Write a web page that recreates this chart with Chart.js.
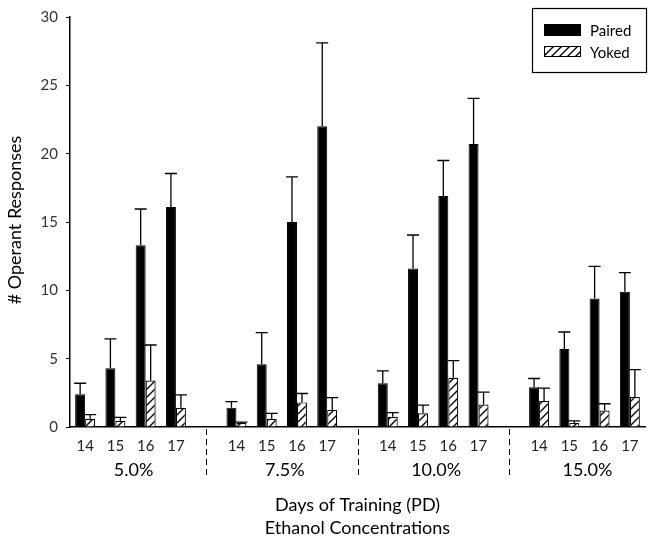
<!DOCTYPE html>
<html>
<head>
<meta charset="utf-8">
<script src="https://cdn.jsdelivr.net/npm/chart.js@4"></script>
<style>
  html, body { margin: 0; padding: 0; background: #fff; }
  #wrap { width: 654px; height: 540px; }
</style>
</head>
<body>
<div id="wrap"><canvas id="chart"></canvas></div>
<script>
// days within each concentration, empty slot between groups
const dayLabels = ['14', '15', '16', '17', '', '14', '15', '16', '17', '', '14', '15', '16', '17', '', '14', '15', '16', '17']
const groupLabels = ['5.0%', '7.5%', '10.0%', '15.0%']

const paired = [2.4, 4.3, 13.3, 16.1, null, 1.4, 4.6, 15.0, 22.0, null, 3.2, 11.6, 16.9, 20.7, null, 2.9, 5.7, 9.4, 9.9]
const pairedErr = [0.8, 2.15, 2.65, 2.45, null, 0.45, 2.3, 3.3, 6.1, null, 0.9, 2.45, 2.6, 3.35, null, 0.65, 1.25, 2.35, 1.4]
const yoked = [0.6, 0.45, 3.4, 1.4, null, 0.3, 0.6, 1.8, 1.25, null, 0.75, 1.0, 3.6, 1.65, null, 1.9, 0.3, 1.2, 2.2]
const yokedErr = [0.3, 0.25, 2.6, 0.95, null, 0.05, 0.4, 0.65, 0.9, null, 0.3, 0.6, 1.25, 0.9, null, 0.95, 0.15, 0.5, 2.0]

const font = 'Lato, "Open Sans", sans-serif'

function hatch() {
  const c = document.createElement('canvas')
  c.width = 8
  c.height = 8
  const g = c.getContext('2d')
  g.fillStyle = '#fff'
  g.fillRect(0, 0, 8, 8)
  g.strokeStyle = '#000'
  g.lineWidth = 1.4
  g.beginPath()
  g.moveTo(0, 8); g.lineTo(8, 0)
  g.moveTo(-2, 2); g.lineTo(2, -2)
  g.moveTo(6, 10); g.lineTo(10, 6)
  g.stroke()
  return document.getElementById('chart').getContext('2d').createPattern(c, 'repeat')
}
const hatchPattern = hatch()

// error bars, group separators, group labels, titles, legend box
const extras = {
  id: 'extras',
  afterDatasetsDraw(chart) {
    const ctx = chart.ctx
    const y = chart.scales.y
    const errs = [pairedErr, yokedErr]
    ctx.save()
    ctx.strokeStyle = '#000'
    ctx.lineWidth = 1.3
    chart.data.datasets.forEach((ds, di) => {
      const meta = chart.getDatasetMeta(di)
      meta.data.forEach((bar, i) => {
        if (ds.data[i] == null) return
        const top = y.getPixelForValue(ds.data[i])
        const end = y.getPixelForValue(ds.data[i] + errs[di][i])
        ctx.beginPath()
        ctx.moveTo(bar.x, top)
        ctx.lineTo(bar.x, end)
        ctx.moveTo(bar.x - 6, end)
        ctx.lineTo(bar.x + 6, end)
        ctx.stroke()
      })
    })
    ctx.restore()
  },
  afterDraw(chart) {
    const ctx = chart.ctx
    const x = chart.scales.x
    const area = chart.chartArea
    const mid = (area.left + area.right) / 2
    ctx.save()
    // dashed separators
    ctx.strokeStyle = '#000'
    ctx.lineWidth = 1
    ctx.setLineDash([6, 4])
    ;[4, 9, 14].forEach(i => {
      const px = Math.round(x.getPixelForValue(i)) + 0.5
      ctx.beginPath()
      ctx.moveTo(px, area.bottom + 2)
      ctx.lineTo(px, area.bottom + 51)
      ctx.stroke()
    })
    ctx.setLineDash([])
    // concentration labels
    ctx.fillStyle = '#000'
    ctx.font = '18px ' + font
    ctx.textAlign = 'center'
    ctx.textBaseline = 'middle'
    groupLabels.forEach((g, k) => {
      const cx = (x.getPixelForValue(k * 5 + 1) + x.getPixelForValue(k * 5 + 2)) / 2 + 3
      ctx.fillText(g, cx, 470)
    })
    // axis titles
    ctx.fillText('Days of Training (PD)', mid, 505)
    ctx.fillText('Ethanol Concentrations', mid, 528)
    ctx.save()
    ctx.translate(15, 220)
    ctx.rotate(-Math.PI / 2)
    ctx.fillText('# Operant Responses', 0, 0)
    ctx.restore()
    // legend
    ctx.lineWidth = 1.2
    ctx.strokeRect(532.5, 8.5, 114, 64)
    ctx.fillStyle = '#000'
    ctx.fillRect(544, 24, 37, 12)
    ctx.fillStyle = hatchPattern
    ctx.fillRect(544, 46, 37, 11)
    ctx.lineWidth = 1
    ctx.strokeRect(544.5, 46.5, 36, 10)
    ctx.fillStyle = '#000'
    ctx.font = '15px ' + font
    ctx.textAlign = 'left'
    ctx.fillText('Paired', 590, 31)
    ctx.fillText('Yoked', 590, 53)
    ctx.restore()
  }
}

new Chart(document.getElementById('chart'), {
  type: 'bar',
  data: {
    labels: dayLabels,
    datasets: [{
      label: 'Paired',
      data: paired,
      backgroundColor: '#000',
      borderColor: '#000',
      borderWidth: 1
    }, {
      label: 'Yoked',
      data: yoked,
      backgroundColor: hatchPattern,
      borderColor: '#000',
      borderWidth: 1.2
    }]
  },
  options: {
    responsive: true,
    maintainAspectRatio: false,
    animation: false,
    categoryPercentage: 0.66,
    barPercentage: 1.0,
    layout: { padding: { left: 0, right: 9, top: 13, bottom: 0 } },
    plugins: {
      legend: { display: false },
      tooltip: { enabled: false }
    },
    scales: {
      x: {
        grid: { display: false, drawTicks: false },
        border: { display: true, color: '#000', width: 1.5 },
        ticks: {
          color: '#222',
          font: { family: font, size: 15 },
          padding: 10,
          maxRotation: 0,
          autoSkip: false
        },
        afterFit(scale) { scale.height = 113 }
      },
      y: {
        min: 0,
        max: 30,
        grid: { drawOnChartArea: false, color: '#000', tickLength: 4 },
        border: { display: true, color: '#000', width: 1.5 },
        ticks: {
          stepSize: 5,
          color: '#333',
          font: { family: font, size: 15 },
          padding: 8
        },
        afterFit(scale) { scale.width = 70 }
      }
    }
  },
  plugins: [extras]
})
</script>
</body>
</html>
